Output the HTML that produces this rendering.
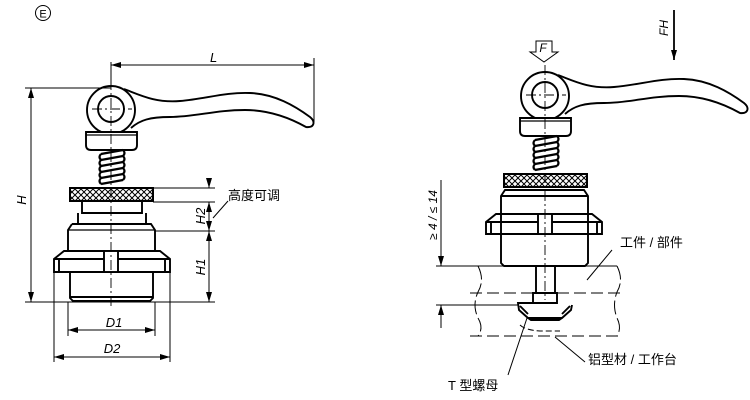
<!DOCTYPE html>
<html><head><meta charset="utf-8"><style>
html,body{margin:0;padding:0;background:#fff;}
svg{display:block;}
text{font-family:"Liberation Sans","Noto Sans CJK SC",sans-serif;fill:#000;}
</style></head><body>
<svg width="750" height="400" viewBox="0 0 750 400" xmlns="http://www.w3.org/2000/svg">
<defs>
<pattern id="kn" width="6" height="6" patternUnits="userSpaceOnUse">
<path d="M0,0L6,6M6,0L0,6" stroke="#000" stroke-width="1"/>
</pattern>
<marker id="ar" viewBox="0 0 10 6" refX="10" refY="3" markerWidth="10" markerHeight="6" orient="auto-start-reverse" markerUnits="userSpaceOnUse">
<path d="M0,0L10,3L0,6z" fill="#000"/>
</marker>
<g id="top" fill="none" stroke="#000" stroke-width="1.9">
<path d="M124,89 C140,95 155,103 180,101 C205,99 225,92 250,93 C275,94 295,106 310,117 C316,122 314,128 306,127 C290,118 270,110 245,110 C215,110 195,117 170,117 C150,117 140,120 131,128" fill="#fff"/>
<circle cx="111" cy="110" r="24" fill="#fff"/>
<circle cx="111" cy="109" r="13"/>
<path d="M86,132 H137 V145 Q137,150 132,150 H91 Q86,150 86,145 Z" fill="#fff"/>
<path d="M86,135 H137" stroke-width="1.2"/>
<path d="M101,154 L123,150 M101,160 L123,156 M101,166 L123,162 M101,172 L123,168 M101,178 L123,174 M101,184 L123,180 M101,154 Q98,157 101,160 M101,160 Q98,163 101,166 M101,166 Q98,169 101,172 M101,172 Q98,175 101,178 M101,178 Q98,181 101,184 M123,150 Q126,153 123,156 M123,156 Q126,159 123,162 M123,162 Q126,165 123,168 M123,168 Q126,171 123,174 M123,174 Q126,177 123,180" stroke-width="2.2"/>
<rect x="70" y="188" width="83" height="13" fill="url(#kn)" stroke-width="2"/>
</g>
</defs>

<!-- Left figure -->
<circle cx="43" cy="13" r="7.5" fill="none" stroke="#000" stroke-width="1"/>
<text x="43" y="17.5" font-size="11" text-anchor="middle">E</text>
<use href="#top"/>
<g fill="none" stroke="#000" stroke-width="1.9">
<path d="M82,201 V213 H142 V201 M78,213 V224 H146 V213"/>
<path d="M72,224 H151 L155,230 V251 M72,224 L68,230 V251"/>
<path d="M68,230 H155" stroke-width="1.2"/>
<path d="M54,259 L64,251 H160 L170,259 V272 H54 Z M54,259 H170 M59,259 V272 M165,259 V272"/>
<rect x="104" y="251" width="14" height="21" fill="#fff"/>
<path d="M70,272 V298 L73,301 H150 L153,298 V272 M70,297 H153" />
</g>
<g stroke="#000" stroke-width="0.9" fill="none" stroke-dasharray="10,3,2,3">
<path d="M111,62 V308"/><path d="M92,109 H132"/>
</g>
<g stroke="#000" stroke-width="1" fill="none">
<path d="M111,62 V86 M314,58 V122"/>
<path d="M111,65 H314" marker-start="url(#ar)" marker-end="url(#ar)"/>
<path d="M25,88 H111 M25,302 H215"/>
<path d="M31,88 V302" marker-start="url(#ar)" marker-end="url(#ar)"/>
<path d="M153,202 H215 M155,231 H215 M153,188 H215"/>
<path d="M209,180 V188" marker-end="url(#ar)"/>
<path d="M209,202 V231" marker-start="url(#ar)" marker-end="url(#ar)"/>
<path d="M209,231 V302" marker-start="url(#ar)" marker-end="url(#ar)"/>
<path d="M68,302 V336 M155,302 V336 M54,272 V362 M170,272 V362"/>
<path d="M68,330 H155" marker-start="url(#ar)" marker-end="url(#ar)"/>
<path d="M54,357 H170" marker-start="url(#ar)" marker-end="url(#ar)"/>
<path d="M213,218 L228,201"/>
</g>
<text x="210" y="62" font-size="13" font-style="italic">L</text>
<text x="26" y="200" font-size="13" font-style="italic" transform="rotate(-90 26 200)" text-anchor="middle">H</text>
<text x="205" y="216" font-size="13" font-style="italic" transform="rotate(-90 205 216)" text-anchor="middle">H2</text>
<text x="205" y="267" font-size="13" font-style="italic" transform="rotate(-90 205 267)" text-anchor="middle">H1</text>
<text x="114" y="327" font-size="13" font-style="italic" text-anchor="middle">D1</text>
<text x="112" y="353" font-size="13" font-style="italic" text-anchor="middle">D2</text>
<text x="228" y="200" font-size="13">高度可调</text>

<!-- Right figure -->
<use href="#top" transform="translate(434,-14)"/>
<g fill="none" stroke="#000" stroke-width="1.9">
<path d="M505,190 H584 L588,196 V263 L585,266 H504 L501,263 V196 Z M501,196 H588"/>
<path d="M486,222 L496,214 H592 L602,222 V234 H486 Z M486,222 H602 M491,222 V234 M597,222 V234"/>
<rect x="538" y="214" width="14" height="20" fill="#fff"/>
<path d="M536,266 V293 M555,266 V293 M533,293 V303 H557 V293 Z"/>
<path d="M536,303 H518 L519,310 L528,318 H562 L571,310 L572,305 M528,318 L531,320 H559 L562,318 M520,306 L528,314 M570,306 L562,314"/>
</g>
<g stroke="#000" stroke-width="1" fill="none">
<path d="M436,266 H536 M555,266 H617"/>
<path d="M436,305 H518"/>
<path d="M470,293 H533 M557,293 H620" stroke-dasharray="12,5"/>
<path d="M470,336 H620" stroke-dasharray="12,5"/>
<path d="M520,325 Q525,330 540,331 H560" stroke-dasharray="6,3"/>
<path d="M478,266 Q485,280 478,292 Q472,305 478,318 Q484,328 478,336" stroke-dasharray="14,4"/>
<path d="M617,266 Q624,280 617,292 Q612,305 617,318 Q622,328 617,336" stroke-dasharray="14,4"/>
<path d="M441,180 V266" marker-end="url(#ar)"/>
<path d="M441,305 V328" marker-start="url(#ar)"/>
<path d="M587,280 L612,250"/>
<path d="M555,337 L585,362"/>
<path d="M527,318 L508,375"/>
<path d="M674,10 V60" stroke-width="1.8" marker-end="url(#ar)"/>
</g>
<g stroke="#000" stroke-width="0.9" fill="none" stroke-dasharray="10,3,2,3">
<path d="M545,65 V300"/><path d="M526,95 H566"/>
</g>
<path d="M536,41 H552 V52 H558 L544,62 L530,52 H536 Z" fill="#fff" stroke="#000" stroke-width="1"/>
<text x="543" y="52" font-size="12" font-style="italic" text-anchor="middle">F</text>
<text x="668" y="28" font-size="12" font-style="italic" transform="rotate(-90 668 28)" text-anchor="middle">FH</text>
<text x="437" y="215" font-size="12" font-style="italic" transform="rotate(-90 437 215)" text-anchor="middle">≥ 4 / ≤ 14</text>
<text x="620" y="247" font-size="13">工件 / 部件</text>
<text x="588" y="364" font-size="13">铝型材 / 工作台</text>
<text x="448" y="390" font-size="13">T 型螺母</text>
</svg>
</body></html>
